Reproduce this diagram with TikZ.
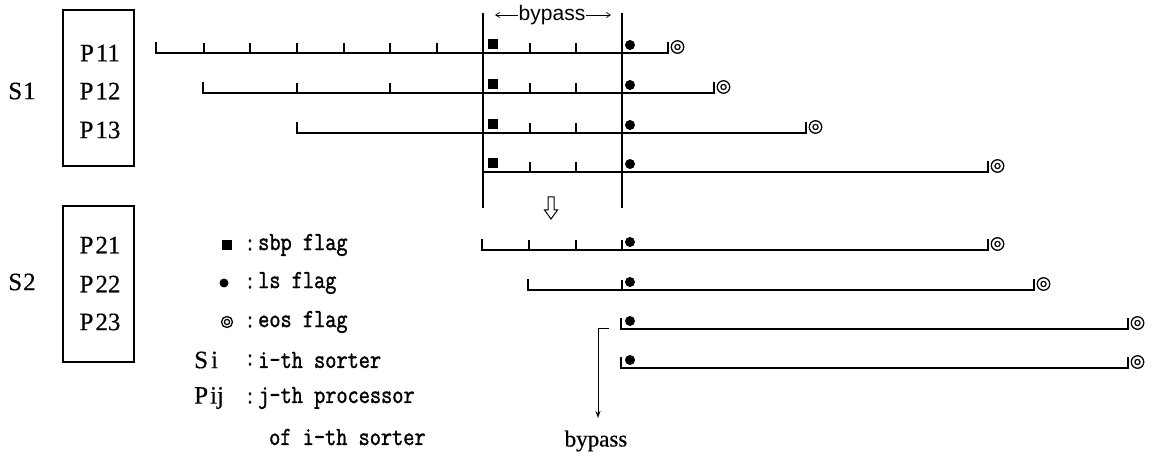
\documentclass[tikz,border=0pt]{standalone}
\usepackage{fontspec}
\usepackage{graphicx}
\setmainfont{Liberation Serif}[FakeBold=0.5]
\newfontfamily\labelsans{Liberation Sans}
\newfontfamily\legendfont{Latin Modern Mono}[FakeBold=1.5]
\usetikzlibrary{arrows.meta}

% tall fixed-pitch serif text used in the legend
\newcommand\legtxt[1]{\scalebox{1}[1.2]{\legendfont\fontsize{21.7}{24}\selectfont #1}}
\newcommand\bigtxt{\fontsize{25}{29}\selectfont}

\begin{document}
\begin{tikzpicture}[x=1pt,y=-1pt,
  timeline/.style={line width=1.7pt, line cap=butt},
  tickmark/.style={line width=1.4pt},
  guide/.style={line width=1.4pt},
  frame/.style={draw, line width=1.3pt, minimum width=71pt, minimum height=156pt, inner sep=0pt},
  sbp/.style={rectangle, fill=black, minimum size=9.5pt, inner sep=0pt},
  ls/.style={circle, fill=black, minimum size=10pt, inner sep=0pt},
  eos/.style={circle, draw, line width=1.3pt, minimum size=12.5pt, inner sep=0pt,
    path picture={\draw[line width=1.2pt] (path picture bounding box.center) circle (2.6pt);}},
  proc/.style={font=\bigtxt, inner sep=0pt},
  legend/.style={anchor=west, inner sep=0pt},
  thinarrow/.style={line width=0.7pt, -{Straight Barb[length=4pt,width=5pt]}},
  flowarrow/.style={line width=1pt, -{Stealth[length=7pt,width=5pt]}}
]
\useasboundingbox (0,0) rectangle (1158,454);

% ---- sorter frames with their processors ----
\node[frame] (box1) at (98.5,88) {};
\node[frame] (box2) at (98.5,284) {};
\node[proc] (s1) at (22,91) {S\kern1pt1};
\node[proc] (s2) at (22,282) {S\kern1pt2};
\node[proc] (p11) at (100,53) {P\kern2pt11};
\node[proc] (p12) at (100,91) {P\kern2pt12};
\node[proc] (p13) at (100,130) {P\kern2pt13};
\node[proc] (p21) at (100,245) {P\kern2pt21};
\node[proc] (p22) at (100,284) {P\kern2pt22};
\node[proc] (p23) at (100,322) {P\kern2pt23};

% ---- bypass window boundaries ----
\coordinate (gl top) at (483,13);
\coordinate (gl bot) at (483,208);
\coordinate (gr top) at (622,13);
\coordinate (gr bot) at (622,208);
\draw[guide] (gl top) -- (gl bot);
\draw[guide] (gr top) -- (gr bot);

\node[font=\labelsans\fontsize{21}{24}\selectfont, inner sep=1pt] (byptop) at (552,15) {bypass};
\coordinate (bl) at (495,15);
\coordinate (br) at (611,15);
\draw[thinarrow] (byptop.west) -- (bl);
\draw[thinarrow] (byptop.east) -- (br);

% ---- processor streams: row / y / start / end ----
\foreach \n/\y/\s/\e in {1/53/156/668, 2/93/203/714, 3/133/297/806, 4/172/483/988,
                         5/250/482/988, 6/290/528/1034, 7/329/621/1128, 8/368/621/1128} {
  \coordinate (r\n s) at (\s,\y);
  \coordinate (r\n e) at (\e,\y);
  \draw[timeline] ([yshift=11pt]r\n s) -- (r\n s) -- (r\n e) -- ([yshift=11pt]r\n e);
  \node[eos] (eos\n) at ([xshift=9.5pt,yshift=6pt]r\n e) {};
  \node[ls] (ls\n) at (630,\y-8) {};
}

% intermediate ticks
\foreach \x in {204,250,297,344,390,437,530,576} \draw[tickmark] (\x,53) -- ++(0,-10);
\foreach \x in {297,390,530,576} \draw[tickmark] (\x,93) -- ++(0,-10);
\foreach \x in {530,576} \draw[tickmark] (\x,133) -- ++(0,-10);
\foreach \x in {530,576} \draw[tickmark] (\x,172) -- ++(0,-10);
\foreach \x in {529,576,622} \draw[tickmark] (\x,250) -- ++(0,-10);
\foreach \x in {622} \draw[tickmark] (\x,290) -- ++(0,-10);

% sbp flags of the first sorter
\foreach \n/\y in {1/53,2/93,3/133,4/172} \node[sbp] (sbp\n) at (493,\y-9) {};

% hollow arrow from the first sorter to the second
\draw[line width=1pt, fill=white, line join=miter]
  (548,197) -- (554,197) -- (554,210) -- (557.5,210) -- (551,219) -- (544.5,210) -- (548,210) -- cycle;

% bypass output
\coordinate (byst) at (609,328);
\coordinate (bytip) at (598,418);
\draw[flowarrow] (byst) -| (bytip);
\node[font=\fontsize{23}{26}\selectfont, inner sep=0pt] (bypbot) at (596,441) {bypass};

% ---- legend ----
\node[sbp, minimum size=10pt] (k1) at (227,245) {};
\node[ls, minimum size=9pt] (k2) at (224,283) {};
\node[eos, minimum size=11pt] (k3) at (227,322) {};
\node[proc, anchor=west] (k4) at (194,360) {S\kern3pt i};
\node[proc, anchor=west] (k5) at (194,398) {P\kern2pt ij};
\foreach \y in {245,283,322,360,398}
  \node[legend, anchor=center] at (250,\y) {\legtxt{:}};
\node[legend] (t1) at (258,245) {\legtxt{sbp flag}};
\node[legend] (t2) at (258,283) {\legtxt{ls flag}};
\node[legend] (t3) at (258,322) {\legtxt{eos flag}};
\node[legend] (t4) at (258,360) {\legtxt{i-th sorter}};
\node[legend] (t5) at (258,398) {\legtxt{j-th processor}};
\node[legend] (t6) at (269,437) {\legtxt{of i-th sorter}};
\end{tikzpicture}
\end{document}
